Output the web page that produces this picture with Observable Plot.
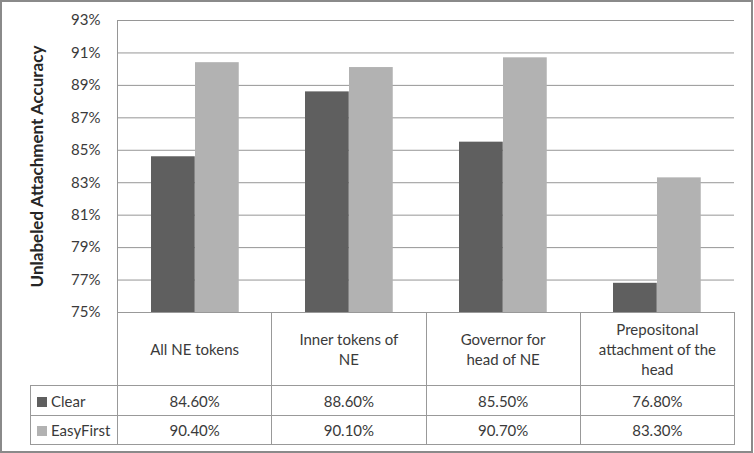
<!DOCTYPE html>
<html><head><meta charset="utf-8">
<script src="https://cdn.jsdelivr.net/npm/d3@7"></script>
<script src="https://cdn.jsdelivr.net/npm/@observablehq/plot@0.6"></script>
<style>
body{margin:0;background:#fff;}
#wrap{position:relative;width:754px;height:453px;font-family:Lato,sans-serif;overflow:hidden;}
#wrap svg{position:absolute;left:0;top:0;}
#frame{position:absolute;left:0;top:0;width:753px;height:453px;box-sizing:border-box;border:2px solid #8a8a8a;pointer-events:none;}
#tbl{position:absolute;left:30px;top:312px;border-collapse:collapse;table-layout:fixed;font-family:Lato,sans-serif;font-size:15px;color:#3a3a3a;}
#tbl td{border:1px solid #999;text-align:center;vertical-align:middle;padding:0;line-height:20px;}
#tbl td.lg{text-align:left;padding-left:6px;white-space:nowrap;}
#tbl td.empty{border:none;}
.sw{display:inline-block;width:10px;height:10px;margin-right:4px;vertical-align:0px;}
</style></head><body><div id="wrap"></div>
<script>
const categories = ["All NE tokens", "Inner tokens of NE", "Governor for head of NE", "Prepositonal attachment of the head"];
const tickLabels = ["All NE tokens", "Inner tokens of<br>NE", "Governor for<br>head of NE", "Prepositonal<br>attachment of the<br>head"];
const series = ["Clear", "EasyFirst"];
const clearValues = [84.6, 88.6, 85.5, 76.8];
const easyFirstValues = [90.4, 90.1, 90.7, 83.3];
const yTicks = [75, 77, 79, 81, 83, 85, 87, 89, 91, 93];
const yTitle = "Unlabeled Attachment Accuracy";
const colors = ["#5f5f5f", "#b2b2b2"];

const values = [clearValues, easyFirstValues];
const data = categories.flatMap((c, i) => series.map((s, j) => ({category: c, series: s, value: values[j][i]})));
const base = yTicks[0];

const chart = Plot.plot({
  width: 754, height: 313,
  marginLeft: 117, marginRight: 20, marginTop: 20, marginBottom: 1,
  style: {fontFamily: "Lato, sans-serif", fontSize: "15px", color: "#3a3a3a", background: "transparent", overflow: "visible"},
  x: {domain: categories, padding: 0, axis: null},
  y: {domain: [yTicks[0], yTicks[yTicks.length - 1]], ticks: yTicks, tickFormat: d => d + "%", tickSize: 0, tickPadding: 17, label: null},
  color: {domain: series, range: colors},
  marks: [
    Plot.ruleY(yTicks, {stroke: "#969696", strokeWidth: 1}),
    Plot.barY(data.filter(d => d.series === series[0]), {x: "category", y1: base, y2: "value", fill: "series", insetLeft: 33, insetRight: 77.25}),
    Plot.barY(data.filter(d => d.series === series[1]), {x: "category", y1: base, y2: "value", fill: "series", insetLeft: 77, insetRight: 33.25}),
    Plot.frame({anchor: "left", stroke: "#969696"}),
    Plot.text([yTitle], {frameAnchor: "left", textAnchor: "middle", rotate: -90, dx: -80, fontWeight: "bold", fontSize: 17, fill: "#262626"})
  ]
});
const wrap = document.getElementById("wrap");
wrap.appendChild(chart);

// data table below the chart
let html = '<table id="tbl"><colgroup><col style="width:87px">' + categories.map(() => '<col style="width:154.25px">').join("") + '</colgroup>';
html += '<tr style="height:73px"><td class="empty"></td>' + tickLabels.map(t => `<td>${t}</td>`).join("") + '</tr>';
series.forEach((s, j) => {
  html += `<tr style="height:${j === 0 ? 30 : 29}px"><td class="lg"><span class="sw" style="background:${colors[j]}"></span>${s}</td>` +
    values[j].map(v => `<td>${v.toFixed(2)}%</td>`).join("") + '</tr>';
});
html += '</table>';
wrap.insertAdjacentHTML("beforeend", html);
wrap.insertAdjacentHTML("beforeend", '<div id="frame"></div>');
</script></body></html>
